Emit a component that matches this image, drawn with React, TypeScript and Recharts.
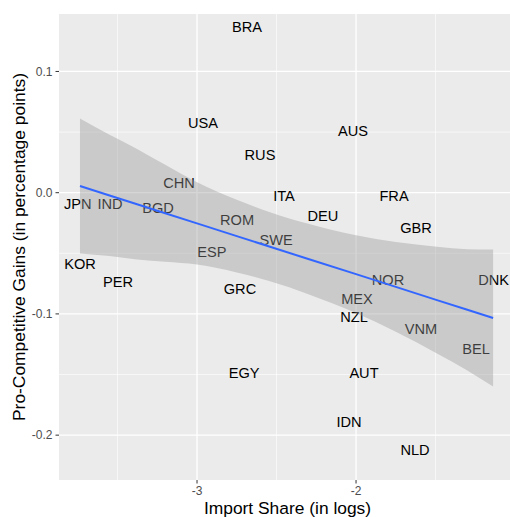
import React from "react";
import {
  ComposedChart,
  XAxis,
  YAxis,
  CartesianGrid,
  Scatter,
  Area,
  Line,
  Label,
} from "recharts";

const FONT = '"Liberation Sans", Arial, Helvetica, sans-serif';

// Country labels and their coordinates
const codes = [
  "BRA", "USA", "RUS", "AUS", "CHN", "ITA", "FRA", "DEU", "GBR", "JPN",
  "IND", "BGD", "ROM", "SWE", "ESP", "KOR", "PER", "GRC", "EGY", "NOR",
  "DNK", "MEX", "NZL", "VNM", "BEL", "AUT", "IDN", "NLD",
];
const importShare = [
  -2.686, -2.962, -2.604, -2.019, -3.113, -2.453, -1.761, -2.208, -1.623, -3.75,
  -3.547, -3.245, -2.748, -2.503, -2.906, -3.736, -3.497, -2.73, -2.704, -1.799,
  -1.135, -1.994, -2.013, -1.591, -1.245, -1.95, -2.044, -1.629,
];
const gains = [
  0.137, 0.0575, 0.0311, 0.0509, 0.008, -0.0027, -0.0027, -0.0192, -0.0291, -0.0093,
  -0.0093, -0.0126, -0.0225, -0.039, -0.0489, -0.0588, -0.0737, -0.0795, -0.1488, -0.072,
  -0.072, -0.0877, -0.1026, -0.1125, -0.129, -0.1488, -0.1892, -0.2123,
];

// Smoother fit and confidence band
const bandX = [-3.736, -3.55, -3.377, -3.2, -3.0, -2.75, -2.541, -2.3, -2.0, -1.75, -1.491, -1.3, -1.138];
const bandFit = [0.0055, -0.0023, -0.0095, -0.017, -0.0253, -0.0358, -0.0446, -0.0547, -0.0672, -0.0777, -0.0886, -0.0966, -0.1034];
const bandHigh = [0.0612, 0.0477, 0.0361, 0.023, 0.0087, -0.0058, -0.0161, -0.0257, -0.0352, -0.0407, -0.0446, -0.0466, -0.0469];
const bandLow = [-0.0502, -0.0523, -0.0551, -0.057, -0.0593, -0.0658, -0.0731, -0.0837, -0.0992, -0.1147, -0.1326, -0.1466, -0.1599];

// Axis ticks and grid values
const xTicks = [-3, -2];
const yTicks = [-0.2, -0.1, 0, 0.1];
const xMinor = [-3.5, -2.5, -1.5];
const yMinor = [-0.15, -0.05, 0.05];

const points = codes.map((code, i) => ({ x: importShare[i], y: gains[i], code }));
const band = bandX.map((x, i) => ({
  x,
  fit: bandFit[i],
  range: [bandLow[i], bandHigh[i]],
}));

const CodeLabel = (props: any) => {
  const { cx, cy, payload } = props;
  if (cx == null || cy == null) return null;
  return (
    <text
      x={cx}
      y={cy}
      dy="0.36em"
      textAnchor="middle"
      fontSize={14.6}
      fontFamily={FONT}
      fill="#000000"
    >
      {payload.code}
    </text>
  );
};

const YTitle = (props: any) => {
  const vb = props.viewBox || { x: 0, y: 14, width: 59, height: 466 };
  const cx = vb.x + 19;
  const cy = vb.y + vb.height / 2;
  return (
    <text
      x={cx}
      y={cy}
      transform={`rotate(-90 ${cx} ${cy})`}
      textAnchor="middle"
      dominantBaseline="central"
      fontSize={17.4}
      fontFamily={FONT}
      fill="#000000"
    >
      Pro-Competitive Gains (in percentage points)
    </text>
  );
};

export default function App() {
  return (
    <div
      style={{
        position: "absolute",
        left: 0,
        top: 0,
        width: 510,
        height: 517,
        overflow: "hidden",
        background: "#ffffff",
      }}
    >
      <ComposedChart width={516} height={517} margin={{ top: 14, right: 0, bottom: 0, left: 0 }}>
        <CartesianGrid
          fill="#EBEBEB"
          stroke="#FFFFFF"
          strokeWidth={1.3}
          verticalValues={xTicks}
          horizontalValues={yTicks}
        />
        <CartesianGrid
          stroke="#FFFFFF"
          strokeWidth={0.6}
          verticalValues={xMinor}
          horizontalValues={yMinor}
        />
        <XAxis
          type="number"
          dataKey="x"
          domain={[-3.868, -0.994]}
          allowDataOverflow
          ticks={xTicks}
          interval={0}
          tickFormatter={(v: number) => String(v)}
          height={37}
          axisLine={false}
          tickLine={{ stroke: "#333333" }}
          tickSize={3.5}
          tickMargin={2.5}
          tick={{ fill: "#4D4D4D", fontSize: 12, fontFamily: FONT }}
        >
          <Label
            value="Import Share (in logs)"
            position="insideBottom"
            offset={3.5}
            fill="#000000"
            fontSize={17.4}
            fontFamily={FONT}
          />
        </XAxis>
        <YAxis
          type="number"
          dataKey="y"
          domain={[-0.237, 0.1474]}
          allowDataOverflow
          ticks={yTicks}
          interval={0}
          tickFormatter={(v: number) => v.toFixed(1)}
          width={59}
          axisLine={false}
          tickLine={{ stroke: "#333333" }}
          tickSize={3.5}
          tickMargin={3}
          tick={{ fill: "#4D4D4D", fontSize: 12, fontFamily: FONT }}
        >
          <Label content={YTitle} />
        </YAxis>
        <Scatter
          data={points}
          dataKey="y"
          shape={CodeLabel}
          isAnimationActive={false}
          zIndex={50}
        />
        <Area
          data={band}
          dataKey="range"
          type="monotone"
          fill="#999999"
          fillOpacity={0.4}
          stroke="none"
          dot={false}
          activeDot={false}
          isAnimationActive={false}
          zIndex={100}
        />
        <Line
          data={band}
          dataKey="fit"
          type="linear"
          stroke="#3366FF"
          strokeWidth={2}
          dot={false}
          activeDot={false}
          isAnimationActive={false}
          zIndex={400}
        />
      </ComposedChart>
    </div>
  );
}
